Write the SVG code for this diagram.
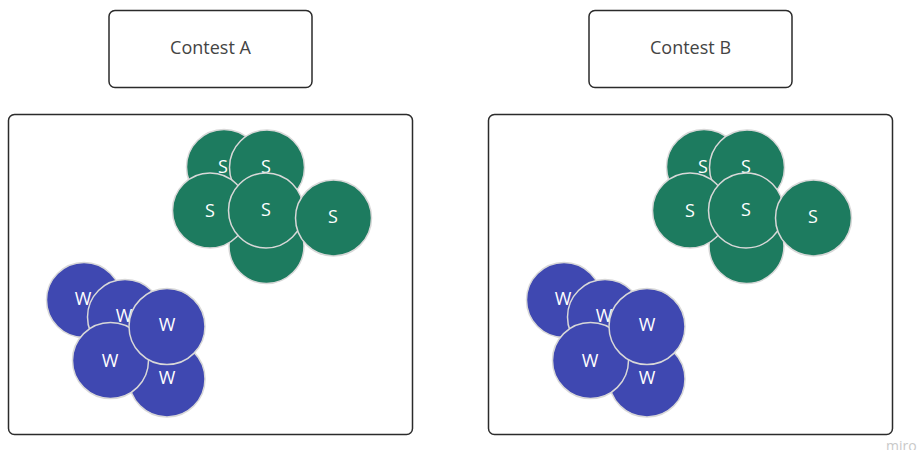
<svg xmlns="http://www.w3.org/2000/svg" width="917" height="450" viewBox="0 0 917 450">
<style>
.box{fill:#fff;stroke:#2b2b2b;stroke-width:1.5}
.title{font-family:"Open Sans",sans-serif;font-size:18px;fill:#444;text-anchor:middle;dominant-baseline:central}
.s circle{fill:#1d7b5f;stroke:#d8d8d8;stroke-width:1.5}
.w circle{fill:#3f48b1;stroke:#d8d8d8;stroke-width:1.5}
.lbl{font-family:"Open Sans",sans-serif;font-size:18px;fill:#fff;text-anchor:middle;dominant-baseline:central}
.wm{font-family:"Open Sans",sans-serif;font-size:14px;fill:#c9c9c9}
</style>
<rect width="917" height="450" fill="#fff"/>
<g id="contestA">
<rect class="box" x="109" y="10.5" width="203" height="77" rx="6"/>
<text class="title" x="210.5" y="47">Contest A</text>
</g>
<g id="contestB">
<rect class="box" x="589" y="10.5" width="203" height="77" rx="6"/>
<text class="title" x="690.5" y="47">Contest B</text>
</g>
<g id="panelA"><rect class="box" x="8.5" y="114.5" width="404" height="320" rx="6"/></g>
<g id="panelB"><rect class="box" x="488.5" y="114.5" width="404" height="320" rx="6"/></g>
<g id="connectors"></g>
<g id="clusterA">
<g class="s">
<g id="a_s1"><circle cx="224" cy="167" r="37.5"/><text class="lbl" x="223" y="166">S</text></g>
<g id="a_s2"><circle cx="267" cy="167.5" r="37.5"/><text class="lbl" x="266" y="166">S</text></g>
<g id="a_s3"><circle cx="266.5" cy="246" r="37.5"/><text class="lbl" x="266" y="239">S</text></g>
<g id="a_s4"><circle cx="210" cy="210.5" r="37.5"/><text class="lbl" x="210" y="210">S</text></g>
<g id="a_s5"><circle cx="266" cy="210.5" r="37.5"/><text class="lbl" x="266" y="209">S</text></g>
<g id="a_s6"><circle cx="333.5" cy="218" r="38"/><text class="lbl" x="333" y="216">S</text></g>
</g>
<g class="w">
<g id="a_w1"><circle cx="84" cy="300" r="37.5"/><text class="lbl" x="83" y="298">W</text></g>
<g id="a_w2"><circle cx="125" cy="317" r="37.5"/><text class="lbl" x="124" y="315">W</text></g>
<g id="a_w5"><circle cx="167" cy="379" r="38"/><text class="lbl" x="167" y="377">W</text></g>
<g id="a_w4"><circle cx="110.5" cy="360.5" r="38"/><text class="lbl" x="110" y="360">W</text></g>
<g id="a_w3"><circle cx="167" cy="326.5" r="38"/><text class="lbl" x="167" y="324">W</text></g>
</g>
</g>
<g id="clusterB" transform="translate(480,0)">
<g class="s">
<g id="b_s1"><circle cx="224" cy="167" r="37.5"/><text class="lbl" x="223" y="166">S</text></g>
<g id="b_s2"><circle cx="267" cy="167.5" r="37.5"/><text class="lbl" x="266" y="166">S</text></g>
<g id="b_s3"><circle cx="266.5" cy="246" r="37.5"/><text class="lbl" x="266" y="239">S</text></g>
<g id="b_s4"><circle cx="210" cy="210.5" r="37.5"/><text class="lbl" x="210" y="210">S</text></g>
<g id="b_s5"><circle cx="266" cy="210.5" r="37.5"/><text class="lbl" x="266" y="209">S</text></g>
<g id="b_s6"><circle cx="333.5" cy="218" r="38"/><text class="lbl" x="333" y="216">S</text></g>
</g>
<g class="w">
<g id="b_w1"><circle cx="84" cy="300" r="37.5"/><text class="lbl" x="83" y="298">W</text></g>
<g id="b_w2"><circle cx="125" cy="317" r="37.5"/><text class="lbl" x="124" y="315">W</text></g>
<g id="b_w5"><circle cx="167" cy="379" r="38"/><text class="lbl" x="167" y="377">W</text></g>
<g id="b_w4"><circle cx="110.5" cy="360.5" r="38"/><text class="lbl" x="110" y="360">W</text></g>
<g id="b_w3"><circle cx="167" cy="326.5" r="38"/><text class="lbl" x="167" y="324">W</text></g>
</g>
</g>
<text class="wm" x="886" y="451">miro</text>
</svg>
